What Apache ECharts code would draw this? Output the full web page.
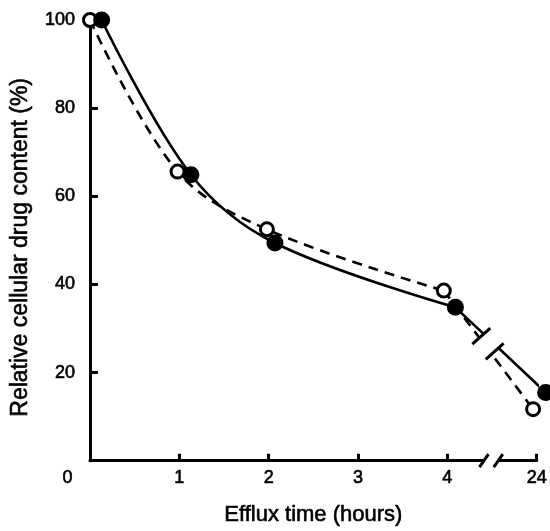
<!DOCTYPE html>
<html><head><meta charset="utf-8">
<script src="https://cdn.jsdelivr.net/npm/echarts@6/dist/echarts.min.js"></script>
<style>html,body{margin:0;padding:0;background:#fff}#c{width:550px;height:531px}</style>
</head><body><div id="c"></div>
<script>
// ---- data ----
const xTickValues = [0, 1, 2, 3, 4, 24];
const xTickLabels = ['0', '1', '2', '3', '4', '24'];
const yTickLabels = [20, 40, 60, 80, 100];
const filledHours  = [0.13, 1.13, 2.07, 4.09, 24.1];
const filledValues = [100, 64.9, 49.4, 34.8, 15.5];
const openHours    = [0, 0.98, 1.98, 3.96, 23.96];
const openValues   = [100, 65.6, 52.5, 38.6, 11.7];

// broken time axis: 0-4 h linear, the 24 h point drawn one unit after 4 h
function axisPos(h) { return h <= 4.5 ? h : 5 + (h - 24); }
function pts(hs, vs, from, to) {
  const out = [];
  for (let i = from; i <= to; i++) out.push([axisPos(hs[i]), vs[i]]);
  return out;
}

const FONT = 'Liberation Sans, Arial, Helvetica, sans-serif';
const TXT = {color: '#000', fontFamily: FONT, textBorderColor: '#000', textBorderWidth: 0.6};
const chart = echarts.init(document.getElementById('c'), null, {renderer: 'canvas'});
const lineBase = {type: 'line', showSymbol: false, clip: false, z: 2, silent: true};
const solid = {color: '#000', width: 2.6};
const dashed = {color: '#000', width: 2.6, type: [10, 7]};

chart.setOption({
  animation: false,
  backgroundColor: '#fff',
  grid: {left: 90, top: 20, right: 10, bottom: 66},
  xAxis: {
    type: 'value', min: 0, max: 5, interval: 1,
    axisLine: {lineStyle: {color: '#000', width: 3}},
    axisTick: {inside: true, length: 7, lineStyle: {color: '#000', width: 3}},
    splitLine: {show: false},
    axisLabel: Object.assign({
      margin: 8, fontSize: 18,
      formatter: function (v) {
        const i = xTickValues.map(axisPos).indexOf(v);
        const t = i >= 0 ? xTickLabels[i] : '';
        return v === 0 ? '{z|' + t + '}' : t;
      },
      rich: {z: Object.assign({padding: [0, 45, 0, 0], fontSize: 18}, TXT)}
    }, TXT),
    name: 'Efflux time (hours)', nameLocation: 'middle', nameGap: 43,
    nameTextStyle: Object.assign({fontSize: 22}, TXT)
  },
  yAxis: {
    type: 'value', min: 0, max: 100, interval: 20,
    axisLine: {show: true, lineStyle: {color: '#000', width: 3}},
    axisTick: {show: true, inside: true, length: 8, lineStyle: {color: '#000', width: 3}},
    splitLine: {show: false},
    axisLabel: Object.assign({
      margin: 15, fontSize: 18,
      formatter: v => yTickLabels.indexOf(v) >= 0 ? String(v) : ''
    }, TXT),
    name: 'Relative cellular drug content (%)', nameLocation: 'middle', nameGap: 58,
    nameTextStyle: Object.assign({fontSize: 23, padding: [0, 14, 0, 0]}, TXT)
  },
  series: [
    Object.assign({}, lineBase, {name: 'filled-curve', smooth: 0.35, data: pts(filledHours, filledValues, 0, 3), lineStyle: solid}),
    Object.assign({}, lineBase, {name: 'filled-tail', data: pts(filledHours, filledValues, 3, 4), lineStyle: solid}),
    Object.assign({}, lineBase, {name: 'open-curve', smooth: 0.35, data: pts(openHours, openValues, 0, 3), lineStyle: dashed}),
    Object.assign({}, lineBase, {name: 'open-tail', data: pts(openHours, openValues, 3, 4), lineStyle: dashed}),
    {type: 'scatter', name: 'open', clip: false, z: 5, symbol: 'circle', symbolSize: 13,
     itemStyle: {color: '#fff', borderColor: '#000', borderWidth: 3, opacity: 1},
     data: pts(openHours, openValues, 0, 4)},
    {type: 'scatter', name: 'filled', clip: false, z: 6, symbol: 'circle', symbolSize: 17,
     itemStyle: {color: '#000', opacity: 1},
     data: pts(filledHours, filledValues, 0, 4)}
  ]
});

// ---- break marks (positioned through the chart's own coordinate system) ----
const px = p => chart.convertToPixel({gridIndex: 0}, p);
const g = [];
// x axis break "//"
const a0 = px([4.41, 0]), a1 = px([4.57, 0]);
g.push({type: 'rect', z: 50, shape: {x: a0[0], y: a0[1] - 5, width: a1[0] - a0[0], height: 10}, style: {fill: '#fff'}});
[a0, a1].forEach(a => g.push({type: 'line', z: 51,
  shape: {x1: a[0] - 4.5, y1: a[1] + 6.5, x2: a[0] + 4.5, y2: a[1] - 6.5},
  style: {stroke: '#000', lineWidth: 3}}));

// curve break between 4 h and 24 h
const A = px(pts(filledHours, filledValues, 3, 3)[0]), B = px(pts(filledHours, filledValues, 4, 4)[0]);
const C = px(pts(openHours, openValues, 3, 3)[0]), D = px(pts(openHours, openValues, 4, 4)[0]);
const yAt = (P, Q, x) => P[1] + (Q[1] - P[1]) * (x - P[0]) / (Q[0] - P[0]);
const norm = v => { const l = Math.hypot(v[0], v[1]); return [v[0] / l, v[1] / l]; };
const d1 = norm([B[0] - A[0], B[1] - A[1]]), d2 = norm([D[0] - C[0], D[1] - C[1]]);
const dir = norm([d1[0] + d2[0], d1[1] + d2[1]]);
const n = [-dir[1], dir[0]];
const cs = [4.38, 4.53].map(v => { const x = px([v, 0])[0]; return [x, (yAt(A, B, x) + yAt(C, D, x)) / 2]; });
const H = 12;
g.push({type: 'polygon', z: 50, shape: {points: [
  [cs[0][0] + n[0] * H, cs[0][1] + n[1] * H], [cs[1][0] + n[0] * H, cs[1][1] + n[1] * H],
  [cs[1][0] - n[0] * H, cs[1][1] - n[1] * H], [cs[0][0] - n[0] * H, cs[0][1] - n[1] * H]]},
  style: {fill: '#fff'}});
cs.forEach(c => g.push({type: 'line', z: 51,
  shape: {x1: c[0] + n[0] * H, y1: c[1] + n[1] * H, x2: c[0] - n[0] * H, y2: c[1] - n[1] * H},
  style: {stroke: '#000', lineWidth: 3}}));
chart.setOption({graphic: g});
</script>
</body></html>
